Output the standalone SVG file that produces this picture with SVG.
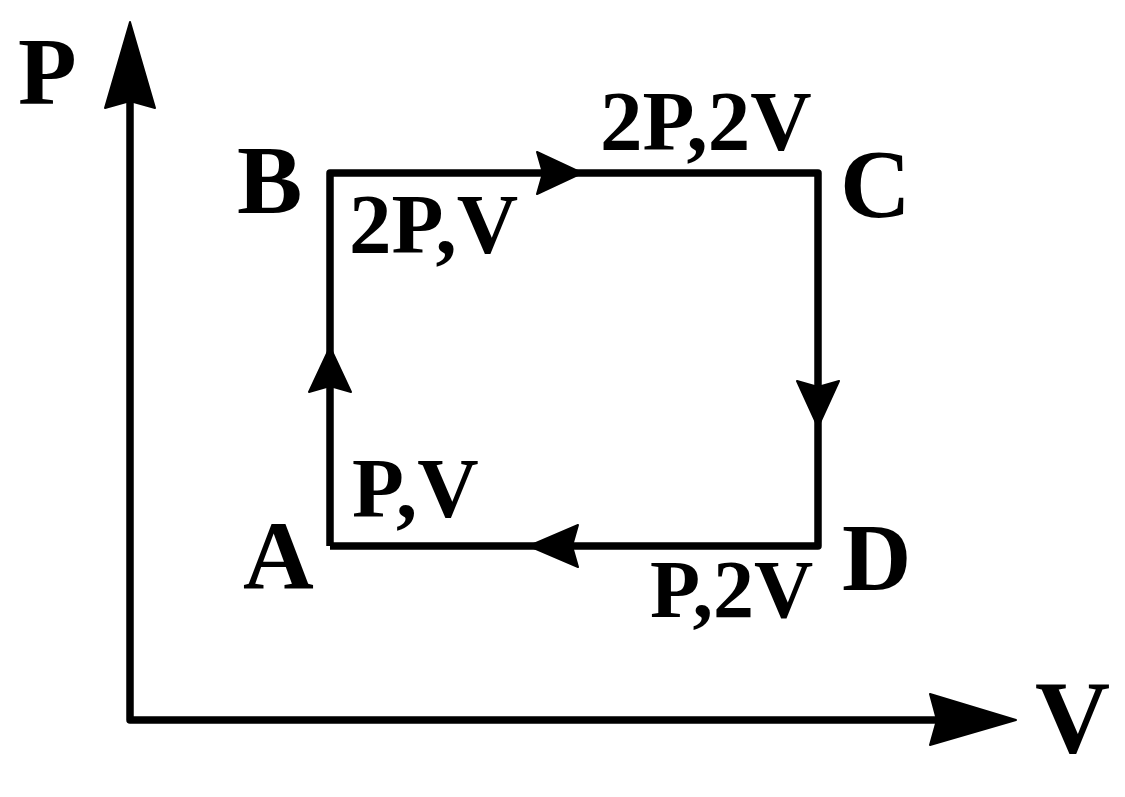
<svg xmlns="http://www.w3.org/2000/svg" width="1125" height="797" viewBox="0 0 1125 797">
<style>
.ln{fill:none;stroke:#000;stroke-width:7.5;stroke-linejoin:round}
.ah{fill:#000;stroke:#000;stroke-width:2;stroke-linejoin:round}
.big{font-family:"Liberation Serif","Times New Roman",serif;font-weight:bold;font-size:98px;fill:#000}
.lbl{font-family:"Liberation Serif","Times New Roman",serif;font-weight:bold;font-size:85px;fill:#000}
</style>
<rect width="1125" height="797" fill="#fff"/>
<g id="connectors">
  <g id="axes">
    <polyline class="ln" points="130,100 130,720 936,720"/>
    <polygon class="ah" points="130,22 155,108 130,101 105,108"/>
    <polygon class="ah" points="1016,720 930,745 937,720 930,694"/>
  </g>
  <g id="cycle">
    <polyline class="ln" points="330,546 330,173 818,173 818,546 330,546"/>
    <polygon class="ah" points="582,173 537,194 543,173 537,152"/>
    <polygon class="ah" points="818,427 839,381 818,387 797,381"/>
    <polygon class="ah" points="529,546 578,567 572,546 578,525"/>
    <polygon class="ah" points="330,347 351,392 330,386 309,392"/>
  </g>
</g>
<g id="axis-P"><text class="big" x="18" y="104" style="font-size:96px">P</text></g>
<g id="axis-V"><text class="big" x="1035" y="752" style="font-size:104px">V</text></g>
<g id="node-A">
  <text class="big" x="243" y="588">A</text>
  <text class="lbl" x="352" y="517">P,V</text>
</g>
<g id="node-B">
  <text class="big" x="237" y="213">B</text>
  <text class="lbl" x="349" y="253">2P,V</text>
</g>
<g id="node-C">
  <text class="big" x="840" y="217">C</text>
  <text class="lbl" x="600" y="150">2P,2V</text>
</g>
<g id="node-D">
  <text class="big" x="842" y="590" style="font-size:96px">D</text>
  <text class="lbl" x="650" y="617" style="font-size:82px">P,2V</text>
</g>
</svg>
